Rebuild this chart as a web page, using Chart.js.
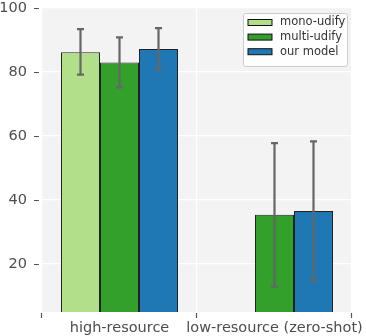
<!DOCTYPE html>
<html lang="en">
<head>
    <meta charset="UTF-8">
    <title>Resource bars</title>
    <script src="https://cdn.jsdelivr.net/npm/chart.js"></script>
    <style>
        body {
            margin: 0;
            padding: 0;
            background-color: #ffffff;
        }

        .chart-container {
            width: 366px;
            height: 336px;
        }
    </style>
</head>
<body>
    <div class="chart-container">
        <canvas id="resChart"></canvas>
    </div>
    <script>
        // data
        const categories = ['high-resource', 'low-resource (zero-shot)'];
        const seriesNames = ['mono-udify', 'multi-udify', 'our model'];
        const seriesColors = ['#b2df8a', '#33a02c', '#1f78b4'];
        const monoValues = [86.2, null];
        const multiValues = [83.0, 35.4];
        const ourValues = [87.2, 36.6];
        // error bar ends (low, high)
        const monoErr = [[79.2, 93.4], null];
        const multiErr = [[75.2, 90.8], [12.9, 57.8]];
        const ourErr = [[80.8, 93.7], [14.7, 58.3]];
        const yTicks = [20, 40, 60, 80, 100];

        const allErr = [monoErr, multiErr, ourErr];
        const textColor = '#4d4d4d';

        const backgroundPlugin = {
            id: 'plotBackground',
            beforeDraw(chart) {
                const { ctx, chartArea } = chart;
                ctx.save();
                ctx.fillStyle = '#f3f3f3';
                ctx.fillRect(chartArea.left, chartArea.top, chartArea.right - chartArea.left, chartArea.bottom - chartArea.top);
                ctx.restore();
            }
        };

        const errorBarPlugin = {
            id: 'errorBars',
            afterDatasetsDraw(chart) {
                const ctx = chart.ctx;
                const yScale = chart.scales.y;
                ctx.save();
                ctx.strokeStyle = '#666666';
                ctx.lineWidth = 2.2;
                allErr.forEach((errs, di) => {
                    const meta = chart.getDatasetMeta(di);
                    errs.forEach((e, i) => {
                        if (!e) return;
                        const x = meta.data[i].x;
                        const yLo = yScale.getPixelForValue(e[0]);
                        const yHi = yScale.getPixelForValue(e[1]);
                        ctx.beginPath();
                        ctx.moveTo(x, yLo);
                        ctx.lineTo(x, yHi);
                        ctx.moveTo(x - 3.5, yLo);
                        ctx.lineTo(x + 3.5, yLo);
                        ctx.moveTo(x - 3.5, yHi);
                        ctx.lineTo(x + 3.5, yHi);
                        ctx.stroke();
                    });
                });
                ctx.restore();
            }
        };

        const tickMarkPlugin = {
            id: 'tickMarks',
            afterDraw(chart) {
                const { ctx, chartArea } = chart;
                const yScale = chart.scales.y;
                ctx.save();
                ctx.strokeStyle = '#555555';
                ctx.lineWidth = 1.2;
                ctx.beginPath();
                yTicks.forEach(v => {
                    const y = Math.round(yScale.getPixelForValue(v)) + 0.5;
                    ctx.moveTo(chartArea.left - 8, y);
                    ctx.lineTo(chartArea.left - 3, y);
                });
                const w = (chartArea.right - chartArea.left) / categories.length;
                for (let i = 0; i <= categories.length; i++) {
                    const x = Math.round(chartArea.left + i * w) - 0.5;
                    ctx.moveTo(x, chartArea.bottom + 1);
                    ctx.lineTo(x, chartArea.bottom + 6);
                }
                ctx.stroke();
                ctx.restore();
            }
        };

        const legendPlugin = {
            id: 'insideLegend',
            afterDraw(chart) {
                const ctx = chart.ctx;
                const bx = 243.5, by = 13.5, bw = 104, bh = 53;
                ctx.save();
                ctx.fillStyle = 'rgba(255,255,255,0.9)';
                ctx.strokeStyle = '#cccccc';
                ctx.lineWidth = 1;
                ctx.beginPath();
                ctx.roundRect(bx, by, bw, bh, 2);
                ctx.fill();
                ctx.stroke();
                ctx.font = '11.5px "DejaVu Sans"';
                ctx.textBaseline = 'middle';
                seriesNames.forEach((name, i) => {
                    const cy = by + 9 + i * 14.6;
                    ctx.fillStyle = seriesColors[i];
                    ctx.fillRect(248, cy - 3, 24, 6);
                    ctx.strokeStyle = '#111111';
                    ctx.strokeRect(248, cy - 3, 24, 6);
                    ctx.fillStyle = '#333333';
                    ctx.fillText(name, 280, cy);
                });
                ctx.restore();
            }
        };

        const valueSets = [monoValues, multiValues, ourValues];
        const datasets = seriesNames.map((name, i) => ({
            label: name,
            data: valueSets[i],
            backgroundColor: seriesColors[i],
            borderColor: '#222222',
            borderWidth: 1,
            borderSkipped: 'bottom',
            barPercentage: 1.0,
            categoryPercentage: 0.755
        }));

        new Chart(document.getElementById('resChart'), {
            type: 'bar',
            data: {
                labels: categories,
                datasets: datasets
            },
            options: {
                responsive: true,
                maintainAspectRatio: false,
                animation: false,
                layout: {
                    padding: { top: 8, right: 14, left: 0, bottom: 0 }
                },
                scales: {
                    x: {
                        grid: {
                            offset: true,
                            color: '#ffffff',
                            lineWidth: 1.2,
                            drawTicks: false
                        },
                        border: { display: false },
                        ticks: {
                            color: textColor,
                            padding: 8,
                            autoSkip: false,
                            maxRotation: 0,
                            font: { family: 'DejaVu Sans', size: 14.5 }
                        },
                        afterFit(scale) {
                            scale.height = 24;
                            scale.paddingLeft = 0;
                            scale.paddingRight = 0;
                        }
                    },
                    y: {
                        min: 5,
                        max: 100,
                        grid: {
                            color: '#ffffff',
                            lineWidth: 1.2,
                            drawTicks: false
                        },
                        border: { display: false },
                        ticks: {
                            color: textColor,
                            padding: 15,
                            font: { family: 'DejaVu Sans', size: 14.5 }
                        },
                        afterBuildTicks(scale) {
                            scale.ticks = yTicks.map(v => ({ value: v }));
                        },
                        afterFit(scale) {
                            scale.width = 42;
                            scale.paddingTop = 0;
                            scale.paddingBottom = 0;
                        }
                    }
                },
                plugins: {
                    legend: { display: false },
                    tooltip: { enabled: false }
                }
            },
            plugins: [backgroundPlugin, errorBarPlugin, tickMarkPlugin, legendPlugin]
        });
    </script>
</body>
</html>
